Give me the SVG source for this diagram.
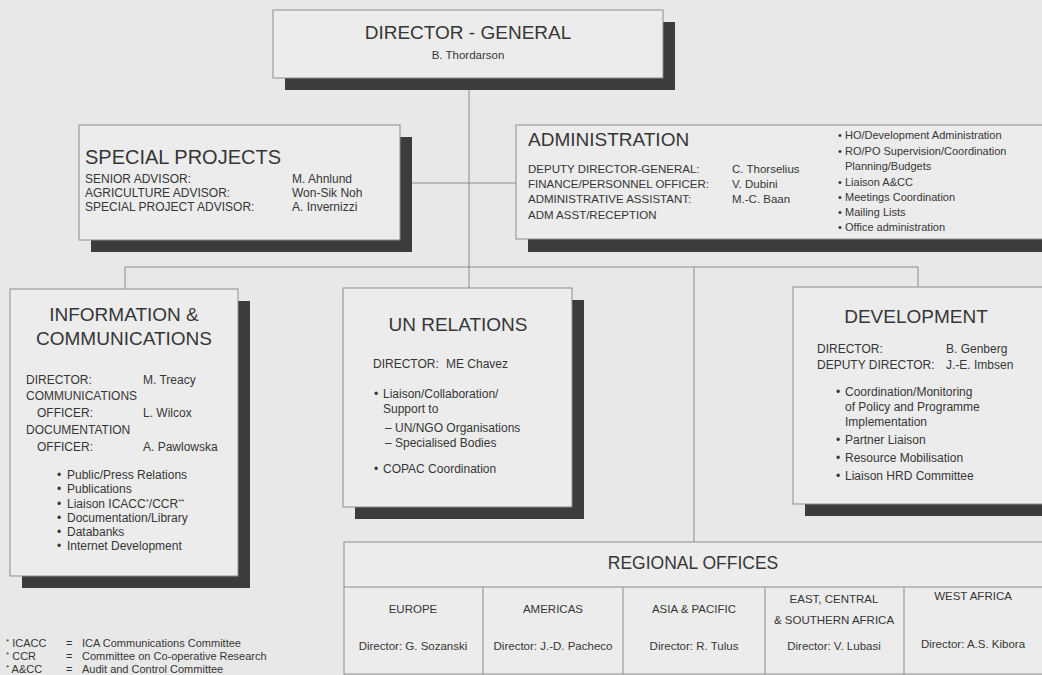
<svg xmlns="http://www.w3.org/2000/svg" width="1042" height="675" viewBox="0 0 1042 675">
<style>
.bg{fill:#e8e8e8}
.box{fill:#ececec;stroke:#8c8c8c;stroke-width:1}
.sh{fill:#3c3c3c}
.ln{stroke:#8c8c8c;stroke-width:1;fill:none}
text{font-family:"Liberation Sans",Arial,sans-serif;fill:#363636}
.ttl{font-size:19px}
.b{font-size:12px}
.s{font-size:11.5px}
.r{font-size:11px}
.ro{font-size:11.5px}
.f{font-size:11px}
.m{text-anchor:middle}
.sup{font-size:8px}
</style>
<rect class="bg" x="0" y="0" width="1042" height="675"/>

<g id="connectors">
<path class="ln" d="M469 78 V288"/>
<path class="ln" d="M400 183 H516"/>
<path class="ln" d="M125 267 H918"/>
<path class="ln" d="M125 267 V289"/>
<path class="ln" d="M694 267 V542"/>
<path class="ln" d="M918 267 V287"/>
</g>

<g id="director-general">
<rect class="sh" x="285" y="22" width="390" height="68"/>
<rect class="box" x="273" y="10" width="390" height="68"/>
<text class="ttl m" x="468" y="39">DIRECTOR - GENERAL</text>
<text class="s m" x="468" y="59">B. Thordarson</text>
</g>

<g id="special-projects">
<rect class="sh" x="91" y="137" width="321" height="115"/>
<rect class="box" x="79" y="125" width="321" height="115"/>
<text class="ttl" x="85" y="164" style="font-size:20px">SPECIAL PROJECTS</text>
<text class="b" x="85" y="183">SENIOR ADVISOR:</text>
<text class="b" x="85" y="197">AGRICULTURE ADVISOR:</text>
<text class="b" x="85" y="211">SPECIAL PROJECT ADVISOR:</text>
<text class="b" x="292" y="183">M. Ahnlund</text>
<text class="b" x="292" y="197">Won-Sik Noh</text>
<text class="b" x="292" y="211">A. Invernizzi</text>
</g>

<g id="administration">
<rect class="sh" x="528" y="137" width="530" height="115"/>
<rect class="box" x="516" y="125" width="530" height="114"/>
<text class="ttl" x="528" y="146">ADMINISTRATION</text>
<text class="s" x="528" y="173">DEPUTY DIRECTOR-GENERAL:</text>
<text class="s" x="528" y="188">FINANCE/PERSONNEL OFFICER:</text>
<text class="s" x="528" y="203">ADMINISTRATIVE ASSISTANT:</text>
<text class="s" x="528" y="219">ADM ASST/RECEPTION</text>
<text class="s" x="732" y="173">C. Thorselius</text>
<text class="s" x="732" y="188">V. Dubini</text>
<text class="s" x="732" y="203">M.-C. Baan</text>
<text class="r" x="838" y="139">•</text><text class="r" x="845" y="139">HO/Development Administration</text>
<text class="r" x="838" y="155">•</text><text class="r" x="845" y="155">RO/PO Supervision/Coordination</text>
<text class="r" x="845" y="170">Planning/Budgets</text>
<text class="r" x="838" y="186">•</text><text class="r" x="845" y="186">Liaison A&amp;CC</text>
<text class="r" x="838" y="201">•</text><text class="r" x="845" y="201">Meetings Coordination</text>
<text class="r" x="838" y="216">•</text><text class="r" x="845" y="216">Mailing Lists</text>
<text class="r" x="838" y="231">•</text><text class="r" x="845" y="231">Office administration</text>
</g>

<g id="information-communications">
<rect class="sh" x="22" y="301" width="228" height="287"/>
<rect class="box" x="10" y="289" width="228" height="287"/>
<text class="ttl m" x="124" y="321">INFORMATION &amp;</text>
<text class="ttl m" x="124" y="345">COMMUNICATIONS</text>
<text class="b" x="26" y="384">DIRECTOR:</text>
<text class="b" x="143" y="384">M. Treacy</text>
<text class="b" x="26" y="400">COMMUNICATIONS</text>
<text class="b" x="37" y="417">OFFICER:</text>
<text class="b" x="143" y="417">L. Wilcox</text>
<text class="b" x="26" y="434">DOCUMENTATION</text>
<text class="b" x="37" y="451">OFFICER:</text>
<text class="b" x="143" y="451">A. Pawlowska</text>
<text class="b" x="57" y="479">•</text><text class="b" x="67" y="479">Public/Press Relations</text>
<text class="b" x="57" y="493">•</text><text class="b" x="67" y="493">Publications</text>
<text class="b" x="57" y="508">•</text><text class="b" x="67" y="508">Liaison ICACC<tspan class="sup" dy="-4">*</tspan><tspan dy="4">/CCR</tspan><tspan class="sup" dy="-4">**</tspan></text>
<text class="b" x="57" y="522">•</text><text class="b" x="67" y="522">Documentation/Library</text>
<text class="b" x="57" y="536">•</text><text class="b" x="67" y="536">Databanks</text>
<text class="b" x="57" y="550">•</text><text class="b" x="67" y="550">Internet Development</text>
</g>

<g id="un-relations">
<rect class="sh" x="355" y="300" width="229" height="219"/>
<rect class="box" x="343" y="288" width="229" height="219"/>
<text class="ttl m" x="458" y="331">UN RELATIONS</text>
<text class="b" x="373" y="368">DIRECTOR:</text>
<text class="b" x="446" y="368">ME Chavez</text>
<text class="b" x="374" y="398">•</text><text class="b" x="383" y="398">Liaison/Collaboration/</text>
<text class="b" x="383" y="413">Support to</text>
<text class="b" x="385" y="432">–</text><text class="b" x="395" y="432">UN/NGO Organisations</text>
<text class="b" x="385" y="447">–</text><text class="b" x="395" y="447">Specialised Bodies</text>
<text class="b" x="374" y="473">•</text><text class="b" x="383" y="473">COPAC Coordination</text>
</g>

<g id="development">
<rect class="sh" x="805" y="299" width="260" height="217"/>
<rect class="box" x="793" y="287" width="260" height="217"/>
<text class="ttl m" x="916" y="323">DEVELOPMENT</text>
<text class="b" x="817" y="353">DIRECTOR:</text>
<text class="b" x="946" y="353">B. Genberg</text>
<text class="b" x="817" y="369">DEPUTY DIRECTOR:</text>
<text class="b" x="946" y="369">J.-E. Imbsen</text>
<text class="b" x="836" y="396">•</text><text class="b" x="845" y="396">Coordination/Monitoring</text>
<text class="b" x="845" y="411">of Policy and Programme</text>
<text class="b" x="845" y="426">Implementation</text>
<text class="b" x="836" y="444">•</text><text class="b" x="845" y="444">Partner Liaison</text>
<text class="b" x="836" y="462">•</text><text class="b" x="845" y="462">Resource Mobilisation</text>
<text class="b" x="836" y="480">•</text><text class="b" x="845" y="480">Liaison HRD Committee</text>
</g>

<g id="regional-offices">
<rect class="box" x="344" y="542" width="710" height="132"/>
<path class="ln" d="M344 587 H1042 M483 587 V674 M623 587 V674 M765 587 V674 M904 587 V674"/>
<text class="ttl m" x="693" y="569" style="font-size:17.5px">REGIONAL OFFICES</text>
<text class="ro m" x="413" y="613">EUROPE</text>
<text class="ro m" x="413" y="650">Director: G. Sozanski</text>
<text class="ro m" x="553" y="613">AMERICAS</text>
<text class="ro m" x="553" y="650">Director: J.-D. Pacheco</text>
<text class="ro m" x="694" y="613">ASIA &amp; PACIFIC</text>
<text class="ro m" x="694" y="650">Director: R. Tulus</text>
<text class="ro m" x="834" y="603">EAST, CENTRAL</text>
<text class="ro m" x="834" y="624">&amp; SOUTHERN AFRICA</text>
<text class="ro m" x="834" y="650">Director: V. Lubasi</text>
<text class="ro m" x="973" y="600">WEST AFRICA</text>
<text class="ro m" x="973" y="648">Director: A.S. Kibora</text>
</g>

<g id="footnotes">
<text class="f" x="6" y="647"><tspan class="sup" dy="-3">*</tspan><tspan dy="3"> ICACC</tspan></text>
<text class="f" x="66" y="647">=</text>
<text class="f" x="82" y="647">ICA Communications Committee</text>
<text class="f" x="6" y="660"><tspan class="sup" dy="-3">*</tspan><tspan dy="3"> CCR</tspan></text>
<text class="f" x="66" y="660">=</text>
<text class="f" x="82" y="660">Committee on Co-operative Research</text>
<text class="f" x="6" y="673"><tspan class="sup" dy="-3">*</tspan><tspan dy="3"> A&amp;CC</tspan></text>
<text class="f" x="66" y="673">=</text>
<text class="f" x="82" y="673">Audit and Control Committee</text>
</g>
</svg>
